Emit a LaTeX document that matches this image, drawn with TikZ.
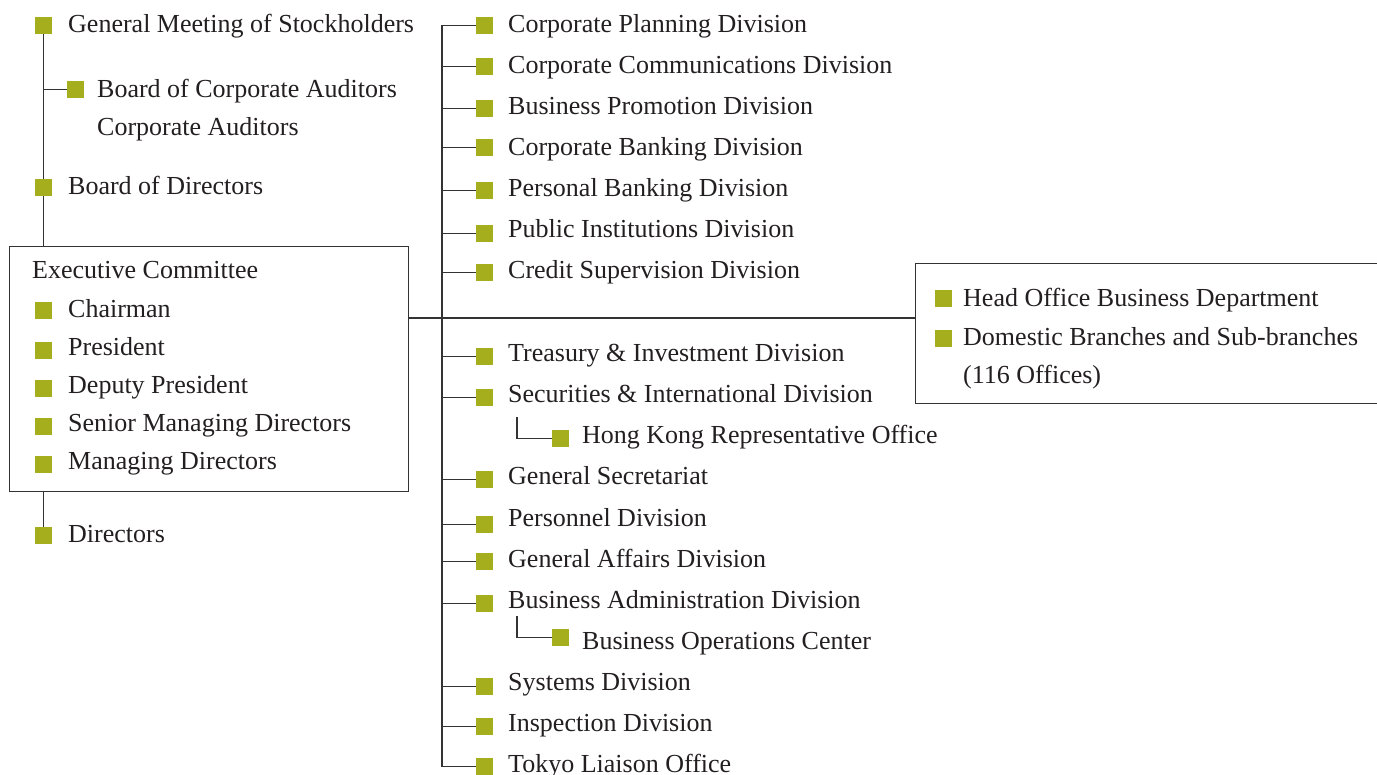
\documentclass[tikz,border=0pt]{standalone}
\usepackage{fontspec}
\setmainfont{Liberation Serif}
\definecolor{sqc}{HTML}{A5AE1C}
\definecolor{txc}{HTML}{231F20}
\definecolor{lnc}{HTML}{333333}
\newcommand\orgbox[6]{% name, square x, square top y, text x, baseline y, text
  \node[sq,anchor=north west] (#1s) at (#2,#3) {};
  \node[lbl] (#1) at (#4,#5) {#6};}
\begin{document}
\begin{tikzpicture}[x=1pt,y=-1pt,
  sq/.style={fill=sqc,draw=none,minimum size=17pt,inner sep=0pt},
  lbl/.style={anchor=base west,inner sep=0pt,text=txc,font=\fontsize{26}{30}\selectfont},
  ln/.style={draw=lnc,line width=1.4pt},
  frame/.style={draw=lnc,line width=1.4pt,fill=none,inner sep=0pt}]
\useasboundingbox (0,0) rectangle (1377,775);
% boxes
\node[frame,anchor=north west,minimum width=399pt,minimum height=245pt] (exec) at (9,246) {};
\node[frame,anchor=north west,minimum width=470pt,minimum height=140pt] (rbox) at (915,263) {};
% connectors drawn first
\coordinate (sp) at (442,0);
\coordinate (hkc) at (517,417);
\coordinate (bocc) at (517,616);
\coordinate (mainy) at (0,318);
\coordinate (gmc) at (43.5,25.5);
\coordinate (bcac) at (67,89.5);
\coordinate (dirc) at (43.5,535.5);
\draw[ln] (gmc) -- (exec.north -| gmc);
\draw[ln] (gmc |- bcac) -- (bcac);
\draw[ln] (exec.south -| dirc) -- (dirc);
\draw[ln] (exec.east |- mainy) -- (rbox.west |- mainy);
% left column
\orgbox{gm}{35}{17}{68}{33}{General Meeting of Stockholders}
\orgbox{bca}{67}{81}{97}{98}{Board of Corporate Auditors}
\node[lbl] (ca) at (97,136) {Corporate Auditors};
\orgbox{bod}{35}{179}{68}{195}{Board of Directors}
\node[lbl] (ec) at (32,279) {Executive Committee};
\orgbox{ch}{35}{302}{68}{318}{Chairman}
\orgbox{pr}{35}{342}{68}{356}{President}
\orgbox{dp}{35}{380}{68}{394}{Deputy President}
\orgbox{smd}{35}{418}{68}{432}{Senior Managing Directors}
\orgbox{md}{35}{456}{68}{470}{Managing Directors}
\orgbox{dir}{35}{527}{68}{543}{Directors}
% divisions
\orgbox{d1}{476}{17}{508}{33}{Corporate Planning Division}
\orgbox{d2}{476}{58}{508}{74}{Corporate Communications Division}
\orgbox{d3}{476}{100}{508}{115}{Business Promotion Division}
\orgbox{d4}{476}{139}{508}{156}{Corporate Banking Division}
\orgbox{d5}{476}{182}{508}{197}{Personal Banking Division}
\orgbox{d6}{476}{225}{508}{238}{Public Institutions Division}
\orgbox{d7}{476}{264}{508}{279}{Credit Supervision Division}
\orgbox{d8}{476}{348}{508}{362}{Treasury \& Investment Division}
\orgbox{d9}{476}{389}{508}{403}{Securities \& International Division}
\orgbox{hk}{552}{430}{582}{444}{Hong Kong Representative Office}
\orgbox{d10}{476}{471}{508}{485}{General Secretariat}
\orgbox{d11}{476}{516}{508}{526}{Personnel Division}
\orgbox{d12}{476}{553}{508}{567}{General Affairs Division}
\orgbox{d13}{476}{595}{508}{608}{Business Administration Division}
\orgbox{boc}{552}{629}{582}{649}{Business Operations Center}
\orgbox{d14}{476}{678}{508}{690}{Systems Division}
\orgbox{d15}{476}{718}{508}{731}{Inspection Division}
\orgbox{d16}{476}{758}{508}{772}{Tokyo Liaison Office}
% right box
\orgbox{ho}{935}{290}{963}{307}{Head Office Business Department}
\orgbox{db}{935}{330}{963}{346}{Domestic Branches and Sub-branches}
\node[lbl] (off) at (963,384) {(116 Offices)};
% division connectors
\draw[ln] (d1s.west) -- (sp |- d1s.center) -- (sp |- d16s.center) -- (d16s.west);
\foreach \n in {2,...,15}{\draw[ln] (sp |- d\n s.center) -- (d\n s.west);}
\draw[ln] (hkc) |- (hks.west);
\draw[ln] (bocc) |- (bocs.west);
\end{tikzpicture}
\end{document}
